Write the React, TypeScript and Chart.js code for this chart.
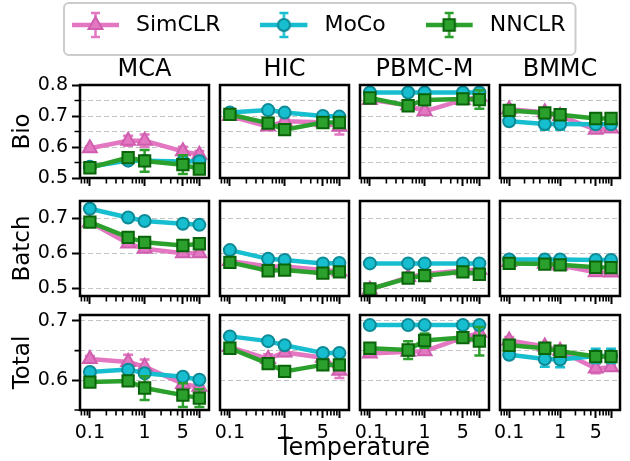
import React, { useEffect, useRef } from 'react';
import { Chart, registerables } from 'chart.js';

Chart.register(...registerables);

// ---------------- data ----------------
const temperatures = [0.1, 0.5, 1, 5, 10];
const datasetTitles = ['MCA', 'HIC', 'PBMC-M', 'BMMC'];
const metricLabels = ['Bio', 'Batch', 'Total'];
const seriesNames = ['SimCLR', 'MoCo', 'NNCLR'];

// values per dataset (MCA, HIC, PBMC-M, BMMC) at each temperature
const bioSimCLR = [
  [0.596, 0.620, 0.620, 0.586, 0.575],
  [0.700, 0.666, 0.683, 0.680, 0.665],
  [0.752, 0.735, 0.715, 0.752, 0.762],
  [0.722, 0.712, 0.700, 0.656, 0.660],
];
const bioMoCo = [
  [0.536, 0.556, 0.556, 0.553, 0.554],
  [0.711, 0.719, 0.711, 0.700, 0.698],
  [0.776, 0.776, 0.776, 0.776, 0.776],
  [0.683, 0.674, 0.674, 0.673, 0.673],
];
const bioNNCLR = [
  [0.533, 0.566, 0.555, 0.543, 0.529],
  [0.705, 0.677, 0.656, 0.679, 0.679],
  [0.758, 0.733, 0.752, 0.755, 0.753],
  [0.718, 0.710, 0.704, 0.692, 0.692],
];
const bioSimCLRErr = [
  [0.006, 0.016, 0.020, 0.015, 0.012],
  [0.005, 0.008, 0.008, 0.008, 0.025],
  [0.005, 0.005, 0.010, 0.005, 0.006],
  [0.010, 0.008, 0.005, 0.010, 0.006],
];
const bioMoCoErr = [
  [0.004, 0.005, 0.005, 0.005, 0.005],
  [0.004, 0.004, 0.004, 0.004, 0.004],
  [0.003, 0.003, 0.003, 0.003, 0.003],
  [0.005, 0.018, 0.018, 0.006, 0.006],
];
const bioNNCLRErr = [
  [0.005, 0.008, 0.035, 0.030, 0.010],
  [0.006, 0.008, 0.006, 0.006, 0.006],
  [0.005, 0.006, 0.008, 0.005, 0.030],
  [0.005, 0.005, 0.005, 0.005, 0.005],
];

const batchSimCLR = [
  [0.688, 0.628, 0.613, 0.600, 0.600],
  [0.578, 0.562, 0.562, 0.552, 0.548],
  [0.496, 0.532, 0.541, 0.551, 0.553],
  [0.575, 0.570, 0.565, 0.546, 0.545],
];
const batchMoCo = [
  [0.727, 0.702, 0.692, 0.684, 0.681],
  [0.609, 0.584, 0.581, 0.571, 0.572],
  [0.571, 0.571, 0.571, 0.571, 0.571],
  [0.582, 0.582, 0.582, 0.581, 0.581],
];
const batchNNCLR = [
  [0.689, 0.645, 0.631, 0.622, 0.627],
  [0.574, 0.550, 0.552, 0.543, 0.547],
  [0.498, 0.529, 0.536, 0.547, 0.540],
  [0.571, 0.569, 0.567, 0.560, 0.559],
];
const batchSimCLRErr = [
  [0.004, 0.005, 0.005, 0.005, 0.005],
  [0.004, 0.004, 0.004, 0.004, 0.004],
  [0.004, 0.004, 0.004, 0.004, 0.004],
  [0.006, 0.004, 0.004, 0.005, 0.005],
];
const batchMoCoErr = [
  [0.003, 0.003, 0.003, 0.003, 0.003],
  [0.003, 0.003, 0.003, 0.003, 0.003],
  [0.003, 0.003, 0.003, 0.003, 0.003],
  [0.004, 0.004, 0.004, 0.004, 0.004],
];
const batchNNCLRErr = [
  [0.004, 0.005, 0.005, 0.005, 0.005],
  [0.004, 0.004, 0.004, 0.004, 0.004],
  [0.004, 0.004, 0.004, 0.004, 0.004],
  [0.004, 0.004, 0.004, 0.004, 0.004],
];

const totalSimCLR = [
  [0.636, 0.631, 0.623, 0.594, 0.589],
  [0.656, 0.636, 0.647, 0.638, 0.616],
  [0.645, 0.648, 0.649, 0.672, 0.680],
  [0.667, 0.657, 0.650, 0.620, 0.622],
];
const totalMoCo = [
  [0.614, 0.618, 0.612, 0.606, 0.601],
  [0.674, 0.666, 0.659, 0.646, 0.646],
  [0.693, 0.693, 0.693, 0.693, 0.693],
  [0.643, 0.636, 0.635, 0.641, 0.641],
];
const totalNNCLR = [
  [0.597, 0.599, 0.587, 0.575, 0.570],
  [0.654, 0.628, 0.615, 0.626, 0.626],
  [0.654, 0.651, 0.667, 0.672, 0.666],
  [0.659, 0.654, 0.649, 0.640, 0.640],
];
const totalSimCLRErr = [
  [0.005, 0.012, 0.012, 0.010, 0.008],
  [0.005, 0.008, 0.006, 0.006, 0.012],
  [0.004, 0.005, 0.006, 0.004, 0.005],
  [0.006, 0.006, 0.005, 0.008, 0.006],
];
const totalMoCoErr = [
  [0.004, 0.005, 0.006, 0.005, 0.005],
  [0.003, 0.003, 0.003, 0.003, 0.003],
  [0.003, 0.003, 0.003, 0.003, 0.003],
  [0.005, 0.013, 0.013, 0.012, 0.012],
];
const totalNNCLRErr = [
  [0.005, 0.006, 0.020, 0.020, 0.015],
  [0.004, 0.006, 0.005, 0.005, 0.006],
  [0.005, 0.015, 0.012, 0.005, 0.024],
  [0.005, 0.005, 0.005, 0.005, 0.005],
];

// axes
const xMin = 0.066;
const xMax = 15;
const xMajorTicks = [0.1, 1, 5, 10];
const xTickLabels = ['0.1', '1', '5', ''];
const xMinorTicks = [0.07, 0.08, 0.09, 0.2, 0.3, 0.4, 0.6, 0.7, 0.8, 0.9, 2, 3, 4, 6, 7, 8, 9];

const yMinByMetric = [0.5, 0.478, 0.55];
const yMaxByMetric = [0.8, 0.749, 0.71];
const yGridTicks = [
  [0.5, 0.55, 0.6, 0.65, 0.7, 0.75, 0.8],
  [0.5, 0.6, 0.7],
  [0.55, 0.6, 0.65, 0.7],
];
const yMajorTicks = [
  [0.5, 0.6, 0.7, 0.8],
  [0.5, 0.6, 0.7],
  [0.6, 0.7],
];
const yMinorTicks = [
  [0.55, 0.65, 0.75],
  [],
  [0.55, 0.65],
];

// ---------------- style / layout ----------------
const FONT = "'DejaVu Sans', sans-serif";
const seriesColors = ['#e377c2', '#17becf', '#2ca02c'];
const seriesEdges = ['#cf5fae', '#0c8a96', '#0a640a'];
const seriesMarkers = ['triangle', 'circle', 'rect'];
const markerRadius = [8, 6, 8];

const W = 630;
const H = 461;
const colLeft = [80, 220, 360, 500];
const colRight = [209, 349, 489, 629];
const rowTop = [85, 201, 315];
const rowBottom = [178, 296, 410];
const TITLE_SIZE = 24;
const TITLE_H = TITLE_SIZE * 1.2 + 1;
const XAXIS_H = 44;
const YAXIS_W = 80;

const metricValues = [
  [bioSimCLR, bioMoCo, bioNNCLR],
  [batchSimCLR, batchMoCo, batchNNCLR],
  [totalSimCLR, totalMoCo, totalNNCLR],
];
const metricErrors = [
  [bioSimCLRErr, bioMoCoErr, bioNNCLRErr],
  [batchSimCLRErr, batchMoCoErr, batchNNCLRErr],
  [totalSimCLRErr, totalMoCoErr, totalNNCLRErr],
];

const near = (a: number, b: number) => Math.abs(a - b) < 1e-9;

const errorBarPlugin = {
  id: 'errorBars',
  beforeDatasetDraw(chart: any, args: any) {
    const ds = chart.data.datasets[args.index];
    const errs: number[] = ds.errors;
    if (!errs) return;
    const ys = chart.scales.y;
    const a = chart.chartArea;
    const ctx = chart.ctx;
    ctx.save();
    ctx.beginPath();
    ctx.rect(a.left - 2, a.top - 2, a.right - a.left + 4, a.bottom - a.top + 4);
    ctx.clip();
    ctx.strokeStyle = ds.borderColor;
    ctx.lineWidth = 2.5;
    const cap = 5;
    args.meta.data.forEach((pt: any, i: number) => {
      const v = ds.data[i].y;
      const e = errs[i];
      const y1 = ys.getPixelForValue(v + e);
      const y2 = ys.getPixelForValue(v - e);
      const x = pt.x;
      ctx.beginPath();
      ctx.moveTo(x, y1);
      ctx.lineTo(x, y2);
      ctx.moveTo(x - cap, y1);
      ctx.lineTo(x + cap, y1);
      ctx.moveTo(x - cap, y2);
      ctx.lineTo(x + cap, y2);
      ctx.stroke();
    });
    ctx.restore();
  },
};

function minorTicksPlugin(showY: boolean, yMinor: number[]) {
  return {
    id: 'minorTicks',
    afterDraw(chart: any) {
      const { ctx, chartArea: a, scales } = chart;
      const xs = scales.x;
      const ys = scales.y;
      ctx.save();
      ctx.strokeStyle = '#000';
      ctx.lineWidth = 1.6;
      ctx.beginPath();
      for (const v of xMinorTicks) {
        if (v < xs.min || v > xs.max) continue;
        const px = xs.getPixelForValue(v);
        ctx.moveTo(px, a.bottom);
        ctx.lineTo(px, a.bottom + 5.5);
      }
      if (showY) {
        for (const v of yMinor) {
          const py = ys.getPixelForValue(v);
          ctx.moveTo(a.left - 5.5, py);
          ctx.lineTo(a.left, py);
        }
      }
      ctx.stroke();
      ctx.restore();
    },
  };
}

const framePlugin = {
  id: 'frame',
  afterDraw(chart: any) {
    const { ctx, chartArea: a } = chart;
    ctx.save();
    ctx.strokeStyle = '#000';
    ctx.lineWidth = 2.5;
    ctx.strokeRect(a.left, a.top, a.right - a.left, a.bottom - a.top);
    ctx.restore();
  },
};

function panelConfig(r: number, c: number): any {
  const vals = metricValues[r];
  const errs = metricErrors[r];
  const datasets = seriesNames.map((name, s) => ({
    label: name,
    data: temperatures.map((t, i) => ({ x: t, y: vals[s][c][i] })),
    errors: errs[s][c],
    borderColor: seriesColors[s],
    backgroundColor: seriesColors[s],
    borderWidth: 4.5,
    pointStyle: seriesMarkers[s],
    pointRadius: markerRadius[s],
    pointBackgroundColor: seriesColors[s],
    pointBorderColor: seriesEdges[s],
    pointBorderWidth: 2,
    tension: 0,
    order: 3 - s,
  }));
  const firstCol = c === 0;
  const lastRow = r === 2;
  return {
    type: 'line',
    data: { datasets },
    options: {
      responsive: false,
      animation: false,
      devicePixelRatio: 1,
      events: [],
      layout: {
        padding: {
          left: firstCol ? 0 : colLeft[c],
          right: W - colRight[c],
          top: r === 0 ? rowTop[0] - TITLE_H : rowTop[r],
          bottom: H - rowBottom[r] - (lastRow ? XAXIS_H : 0),
        },
      },
      plugins: {
        legend: { display: false },
        tooltip: { enabled: false },
        title: {
          display: r === 0,
          text: datasetTitles[c],
          fullSize: false,
          color: '#000',
          font: { family: FONT, size: TITLE_SIZE, weight: 'normal' },
          padding: { top: 0, bottom: 1 },
        },
      },
      scales: {
        x: {
          type: 'logarithmic',
          position: 'bottom',
          min: xMin,
          max: xMax,
          afterBuildTicks: (s: any) => {
            s.ticks = xMajorTicks.map((v) => ({ value: v, major: false }));
          },
          afterFit: (s: any) => {
            s.height = lastRow ? XAXIS_H : 0;
          },
          ticks: {
            display: lastRow,
            autoSkip: false,
            maxRotation: 0,
            minRotation: 0,
            padding: 4,
            color: '#000',
            font: { family: FONT, size: 19 },
            callback: (_v: any, i: number) => xTickLabels[i],
          },
          grid: {
            drawOnChartArea: false,
            drawTicks: true,
            tickLength: 8,
            tickWidth: 2,
            tickColor: '#000',
          },
          border: { display: false },
        },
        y: {
          type: 'linear',
          min: yMinByMetric[r],
          max: yMaxByMetric[r],
          afterBuildTicks: (s: any) => {
            s.ticks = yGridTicks[r].map((v) => ({ value: v }));
          },
          afterFit: (s: any) => {
            s.width = firstCol ? YAXIS_W : 0;
          },
          ticks: {
            display: firstCol,
            autoSkip: false,
            padding: 4,
            color: '#000',
            font: { family: FONT, size: 19 },
            callback: (v: any) =>
              yMajorTicks[r].some((m) => near(m, Number(v))) ? Number(v).toFixed(1) : '',
          },
          grid: {
            color: '#c4c4c4',
            lineWidth: 1,
            drawTicks: firstCol,
            tickLength: 8,
            tickWidth: 2,
            tickColor: (ctx: any) =>
              ctx.tick && yMajorTicks[r].some((m) => near(m, ctx.tick.value)) ? '#000' : 'rgba(0,0,0,0)',
          },
          border: { display: false, dash: [5, 3] },
          title: {
            display: firstCol,
            text: metricLabels[r],
            color: '#000',
            font: { family: FONT, size: 23 },
            padding: { top: 9, bottom: 0 },
          },
        },
      },
    },
    plugins: [errorBarPlugin, minorTicksPlugin(firstCol, yMinorTicks[r]), framePlugin],
  };
}

function makeHandle(s: number): HTMLCanvasElement {
  const cv = document.createElement('canvas');
  cv.width = 53;
  cv.height = 30;
  const g = cv.getContext('2d')!;
  const cy = 15;
  const cx = 23.5;
  g.strokeStyle = seriesColors[s];
  g.lineWidth = 2.5;
  g.beginPath();
  g.moveTo(cx, cy - 12);
  g.lineTo(cx, cy + 12);
  g.moveTo(cx - 4.5, cy - 12);
  g.lineTo(cx + 4.5, cy - 12);
  g.moveTo(cx - 4.5, cy + 12);
  g.lineTo(cx + 4.5, cy + 12);
  g.stroke();
  g.lineWidth = 4.5;
  g.beginPath();
  g.moveTo(0, cy);
  g.lineTo(47, cy);
  g.stroke();
  g.fillStyle = seriesColors[s];
  g.strokeStyle = seriesEdges[s];
  g.lineWidth = 2;
  g.beginPath();
  const m = seriesMarkers[s];
  if (m === 'circle') {
    g.arc(cx, cy, 6, 0, Math.PI * 2);
  } else if (m === 'rect') {
    g.rect(cx - 5.7, cy - 5.7, 11.4, 11.4);
  } else {
    const R = 8;
    g.moveTo(cx, cy - R);
    g.lineTo(cx + R * Math.sin((2 * Math.PI) / 3), cy + R / 2);
    g.lineTo(cx - R * Math.sin((2 * Math.PI) / 3), cy + R / 2);
    g.closePath();
  }
  g.fill();
  g.stroke();
  return cv;
}

const legendFramePlugin = {
  id: 'legendFrame',
  afterDraw(chart: any) {
    const boxes = chart.legend && chart.legend.legendHitBoxes;
    if (!boxes || !boxes.length) return;
    const first = boxes[0];
    const last = boxes[boxes.length - 1];
    const x0 = first.left - 8;
    const x1 = last.left + last.width + 10;
    const y0 = first.top - 11;
    const y1 = first.top + first.height + 19;
    const ctx = chart.ctx;
    ctx.save();
    ctx.strokeStyle = '#cccccc';
    ctx.lineWidth = 2;
    ctx.beginPath();
    if ((ctx as any).roundRect) (ctx as any).roundRect(x0, y0, x1 - x0, y1 - y0, 5);
    else ctx.rect(x0, y0, x1 - x0, y1 - y0);
    ctx.stroke();
    ctx.restore();
  },
};

function legendConfig(): any {
  const handles = seriesNames.map((_, s) => makeHandle(s));
  return {
    type: 'line',
    data: { datasets: [] },
    options: {
      responsive: false,
      animation: false,
      devicePixelRatio: 1,
      events: [],
      layout: { padding: 0 },
      scales: { x: { display: false }, y: { display: false } },
      plugins: {
        tooltip: { enabled: false },
        title: { display: false },
        legend: {
          display: true,
          position: 'top',
          align: 'start',
          labels: {
            usePointStyle: true,
            pointStyleWidth: 53,
            boxHeight: 22,
            padding: 40,
            color: '#000',
            font: { family: FONT, size: 22 },
            generateLabels: () =>
              seriesNames.map((name, s) => ({
                text: name,
                pointStyle: handles[s],
                fillStyle: seriesColors[s],
                strokeStyle: seriesColors[s],
                lineWidth: 0,
                hidden: false,
                datasetIndex: s,
              })),
          },
        },
      },
    },
    plugins: [legendFramePlugin],
  };
}

function xTitleConfig(): any {
  return {
    type: 'line',
    data: { datasets: [] },
    options: {
      responsive: false,
      animation: false,
      devicePixelRatio: 1,
      events: [],
      layout: { padding: { left: 80, right: 2, top: 0, bottom: 0 } },
      scales: { x: { display: false }, y: { display: false } },
      plugins: {
        legend: { display: false },
        tooltip: { enabled: false },
        title: {
          display: true,
          position: 'bottom',
          text: 'Temperature',
          color: '#000',
          font: { family: FONT, size: 24, weight: 'normal' },
          padding: { top: 0, bottom: 0 },
        },
      },
    },
  };
}

export default function App() {
  const panelRefs = useRef<(HTMLCanvasElement | null)[]>([]);
  const legendRef = useRef<HTMLCanvasElement | null>(null);
  const xTitleRef = useRef<HTMLCanvasElement | null>(null);

  useEffect(() => {
    Chart.defaults.font.family = FONT;
    Chart.defaults.color = '#000';
    const charts: Chart[] = [];
    for (let r = 0; r < 3; r++) {
      for (let c = 0; c < 4; c++) {
        const cv = panelRefs.current[r * 4 + c];
        if (cv) charts.push(new Chart(cv, panelConfig(r, c)));
      }
    }
    if (xTitleRef.current) charts.push(new Chart(xTitleRef.current, xTitleConfig()));
    if (legendRef.current) charts.push(new Chart(legendRef.current, legendConfig()));
    return () => charts.forEach((ch) => ch.destroy());
  }, []);

  const panels = [];
  for (let i = 0; i < 12; i++) {
    panels.push(
      <canvas
        key={i}
        width={W}
        height={H}
        ref={(el) => {
          panelRefs.current[i] = el;
        }}
        style={{ position: 'absolute', left: 0, top: 0 }}
      />
    );
  }

  return (
    <div
      style={{
        position: 'absolute',
        left: 0,
        top: 0,
        width: W,
        height: H,
        overflow: 'hidden',
        background: '#fff',
      }}
    >
      {panels}
      <canvas ref={xTitleRef} width={W} height={463} style={{ position: 'absolute', left: 0, top: 0 }} />
      <canvas ref={legendRef} width={598} height={230} style={{ position: 'absolute', left: 32, top: -26 }} />
    </div>
  );
}
